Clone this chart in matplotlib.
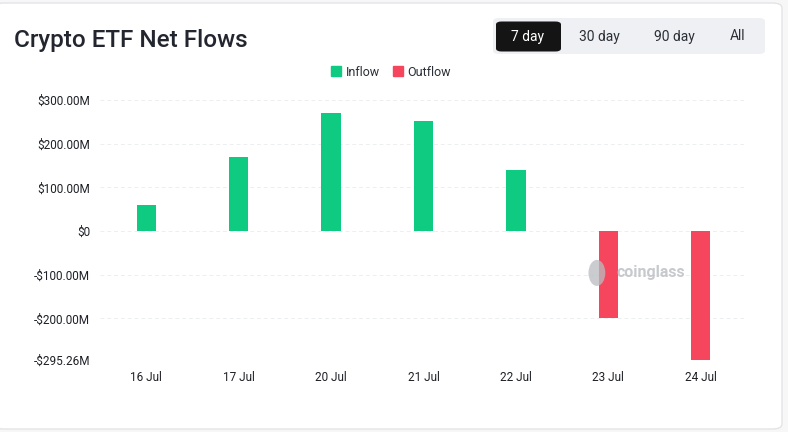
import matplotlib.pyplot as plt
from matplotlib.patches import FancyBboxPatch, Patch, Ellipse

plt.rcParams['font.family'] = ['Roboto', 'DejaVu Sans']

# 数据 (单位: 百万美元)
dates = ['16 Jul', '17 Jul', '20 Jul', '21 Jul', '22 Jul', '23 Jul', '24 Jul']
flows = [60, 169, 270, 252, 140, -199, -295.26]
y_ticks = [-295.26, -200, -100, 0, 100, 200, 300]
y_labels = ['-$295.26M', '-$200.00M', '-$100.00M', '$0', '$100.00M', '$200.00M', '$300.00M']
ranges = ['7 day', '30 day', '90 day', 'All']

green = '#0ecb81'
red = '#f6465d'

W, H = 788, 432
fig = plt.figure(figsize=(W / 100, H / 100), dpi=100)
fig.patch.set_facecolor('#f7f7f8')

# 卡片背景
card = FancyBboxPatch((-6 / W, 3 / H), 788 / W, 426 / H,
                      boxstyle='round,pad=0,rounding_size=0.012',
                      transform=fig.transFigure, facecolor='white',
                      edgecolor='#e4e4e6', linewidth=1, zorder=-2)
fig.patches.append(card)

fig.text(14 / W, 1 - 40 / H, 'Crypto ETF Net Flows', fontsize=17.5, fontweight='medium',
         color='#23262f', va='center', ha='left')

# 时间范围按钮
grp = FancyBboxPatch((493 / W, 1 - 54 / H), 272 / W, 36 / H,
                     boxstyle='round,pad=0,rounding_size=0.008',
                     transform=fig.transFigure, facecolor='#eef0f3',
                     edgecolor='none', zorder=1)
fig.patches.append(grp)
act = FancyBboxPatch((496 / W, 1 - 51.5 / H), 65 / W, 30 / H,
                     boxstyle='round,pad=0,rounding_size=0.007',
                     transform=fig.transFigure, facecolor='#141414',
                     edgecolor='none', zorder=2)
fig.patches.append(act)
btn_x = [528, 599, 674, 737]
for i, (lab, bx) in enumerate(zip(ranges, btn_x)):
    fig.text(bx / W, 1 - 36.5 / H, lab, fontsize=10, ha='center', va='center',
             color='white' if i == 0 else '#2b2f36', zorder=3)

ax = fig.add_axes([100 / W, 1 - 360 / H, 647 / W, 260 / H])
ax.set_zorder(5)
colors = [green if v >= 0 else red for v in flows]
ax.bar(range(len(dates)), flows, width=0.21, color=colors, zorder=3)
ax.set_xlim(-0.5, len(dates) - 0.5)
ax.set_ylim(y_ticks[0], y_ticks[-1])
ax.set_yticks(y_ticks)
ax.set_yticklabels(y_labels)
ax.set_xticks(range(len(dates)))
ax.set_xticklabels(dates)
ax.tick_params(axis='both', length=0, labelsize=8.5, colors='#1e2026')
ax.tick_params(axis='y', pad=7)
ax.tick_params(axis='x', pad=8)
ax.grid(axis='y', color='#eceef0', linestyle=(0, (4, 3)), linewidth=0.7, zorder=0)
for s in ax.spines.values():
    s.set_visible(False)
ax.set_facecolor('none')

# 水印
ax.add_patch(Ellipse((0.768, 0.335), 0.026, 0.1, transform=ax.transAxes,
                     facecolor='#b9bcc1', alpha=0.75, edgecolor='none', zorder=4))
ax.text(0.851, 0.335, 'coinglass', transform=ax.transAxes, fontsize=11.5,
        fontweight='bold', color='#b9bcc1', alpha=0.8, ha='center', va='center', zorder=4)

fig.legend(handles=[Patch(color=green, label='Inflow'), Patch(color=red, label='Outflow')],
           loc='center', bbox_to_anchor=(391 / W, 1 - 72 / H), ncol=2, frameon=False,
           fontsize=9, handlelength=0.8, handleheight=0.8, handletextpad=0.4,
           columnspacing=1.0, labelcolor='#2b2f36')

fig.savefig('out.png', dpi=100, facecolor=fig.get_facecolor())
